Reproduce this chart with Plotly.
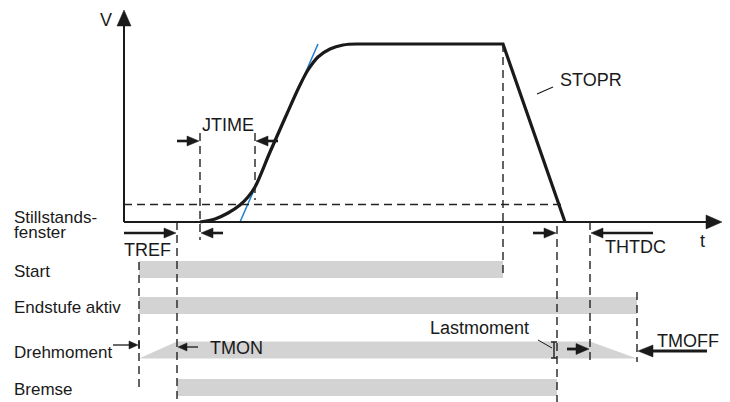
import plotly.graph_objects as go

# ---------------- data (chart units: t to the right, v upward; origin = axes crossing) ----
ramp_t = [76, 91, 104, 116, 124, 131, 146, 161, 176, 184, 194, 206, 219, 233]
ramp_v = [0, 3, 9, 17, 25, 35, 70, 104, 137, 152, 165, 173, 177, 178]
stop_t = [233, 379, 441]
stop_v = [178, 178, 0]
tangent_t = [116, 194]
tangent_v = [0, 178]
standstill_v = 17.5

# event times
t_enable = 15
t_ref = 53
t_j0 = 76
t_j1 = 131
t_stop = 379
t_still = 433
t_htdc = 466
t_off = 513

row_labels = ["Start", "Endstufe aktiv", "Drehmoment", "Bremse"]
row_v = [-47.5, -83.5, -128, -165.5]
start_span = [t_enable, t_stop]
enable_span = [t_enable, t_off]
torque_span = [t_enable, t_ref, t_htdc, t_off]
brake_span = [t_ref, t_still]

# ---------------- styling ----------------
FONT = "Liberation Sans, Arial, sans-serif"
BLACK = "#1a1a1a"
GRAY = "#d3d3d3"
BLUE = "#1f7fd0"
HALF = 8.5

fig = go.Figure()
shapes = []
annos = []


def line(x0, y0, x1, y1, w=2, color=BLACK, dash=None):
    d = dict(type="line", x0=x0, y0=y0, x1=x1, y1=y1, xref="x", yref="y",
             line=dict(color=color, width=w), layer="above")
    if dash:
        d["line"]["dash"] = dash
    shapes.append(d)


def dline(x0, y0, x1, y1):
    line(x0, y0, x1, y1, w=1.4, color="#222222", dash="8px,5px")


def tri(tip_x, tip_y, dx, dy, length, half):
    bx, by = tip_x - dx * length, tip_y - dy * length
    px, py = -dy * half, dx * half
    fig.add_trace(go.Scatter(x=[tip_x, bx + px, bx - px, tip_x],
                             y=[tip_y, by + py, by - py, tip_y],
                             mode="lines", fill="toself", fillcolor=BLACK,
                             line=dict(color=BLACK, width=0.5),
                             hoverinfo="skip", showlegend=False))


def harrow(tail, tip, v, length=12, half=5, w=2.6):
    d = 1 if tip > tail else -1
    line(tail, v, tip - d * (length - 1), v, w=w)
    tri(tip, v, d, 0, length, half)


def text(x, y, s, size=17, anchor="left"):
    annos.append(dict(x=x, y=y, xref="x", yref="y", text=s, showarrow=False,
                      xanchor=anchor, yanchor="middle",
                      font=dict(family=FONT, size=size, color=BLACK)))


# ---------------- gray bars ----------------
def bar(t0, t1, v):
    shapes.append(dict(type="rect", x0=t0, x1=t1, y0=v - HALF, y1=v + HALF,
                       xref="x", yref="y", fillcolor=GRAY, line=dict(width=0),
                       layer="below"))


bar(start_span[0], start_span[1], row_v[0])
bar(enable_span[0], enable_span[1], row_v[1])
bar(brake_span[0], brake_span[1], row_v[3])
vt = row_v[2]
fig.add_trace(go.Scatter(
    x=[torque_span[0], torque_span[1], torque_span[2], torque_span[3], torque_span[0]],
    y=[vt - HALF, vt + HALF, vt + HALF, vt - HALF, vt - HALF],
    mode="lines", fill="toself", fillcolor=GRAY, line=dict(width=0),
    hoverinfo="skip", showlegend=False))

# ---------------- axes ----------------
line(0, 0, 0, 199, w=2)
tri(0, 212, 0, 1, 16, 7)
line(0, 0, 585, 0, w=2)
tri(598, 0, 1, 0, 16, 7)

# standstill window
dline(0, standstill_v, 441, standstill_v)

# ---------------- velocity ----------------
fig.add_trace(go.Scatter(x=tangent_t, y=tangent_v, mode="lines",
                         line=dict(color=BLUE, width=1.5),
                         hoverinfo="skip", showlegend=False))
fig.add_trace(go.Scatter(x=ramp_t, y=ramp_v, mode="lines", line_shape="spline",
                         line=dict(color=BLACK, width=3.2),
                         hoverinfo="skip", showlegend=False))
fig.add_trace(go.Scatter(x=stop_t, y=stop_v, mode="lines",
                         line=dict(color=BLACK, width=3.2),
                         hoverinfo="skip", showlegend=False))

# ---------------- dashed event lines ----------------
dline(t_enable, -40, t_enable, -168)
dline(t_ref, 0, t_ref, -180)
dline(t_j0, 89, t_j0, -18)
dline(t_j1, 89, t_j1, 22)
dline(t_stop, 178, t_stop, -53)
dline(t_still, -4, t_still, -180)
dline(t_htdc, 0, t_htdc, -141)
dline(t_off, -70, t_off, -140)

# ---------------- arrows ----------------
harrow(0, t_ref - 1, -11)                  # TREF
harrow(t_j0 - 23, t_j0 - 1, 81)            # JTIME left
harrow(t_j1 + 23, t_j1 + 1, 81)            # JTIME right
harrow(t_j0 + 23, t_j0 + 1, -11)           # below axis
harrow(t_still - 24, t_still - 1, -11)     # standstill
harrow(t_htdc + 63, t_htdc + 1, -11)       # THTDC
harrow(t_enable - 26, t_enable - 1, -123, length=9, half=4, w=1.3)   # Drehmoment
line(t_enable, -119, t_enable, -127, w=1.4)
harrow(t_ref + 21, t_ref + 1, -125, length=9, half=4, w=1.3)         # TMON
harrow(t_still + 10, t_htdc - 1, -127, length=13, half=5.5, w=2.8)   # Lastmoment arrow
harrow(t_off + 70, t_off + 1, -129, length=15, half=6, w=3)          # TMOFF

# I-beam (Lastmoment) and leaders
line(t_still - 3, -120, t_still - 3, -136, w=1.4)
line(t_still - 6, -120, t_still, -120, w=1.4)
line(t_still - 6, -136, t_still, -136, w=1.4)
line(t_still - 19, -118, t_still - 5, -126, w=1)
line(413, 128, 429, 135, w=1.2)  # STOPR leader

# ---------------- texts ----------------
text(-18, 202, "V", size=18, anchor="center")
text(578, -19, "t", size=18, anchor="center")
text(t_j0 + 28, 97, "JTIME", size=18, anchor="center")
text(434, 142, "STOPR", size=18)
text(-112, 5, "Stillstands-")
text(-112, -10, "fenster")
text(-2, -28, "TREF", size=18)
text(479, -25, "THTDC", size=18)
for lab, v in zip(row_labels, row_v):
    text(-112, v - 2, lab)
text(84, -126, "TMON", size=18)
text(304, -106, "Lastmoment", size=18)
text(531, -119, "TMOFF", size=18)

fig.update_layout(
    width=730, height=402, margin=dict(l=0, r=0, t=0, b=0),
    paper_bgcolor="white", plot_bgcolor="white",
    xaxis=dict(range=[-124, 606], visible=False, fixedrange=True),
    yaxis=dict(range=[-180, 222], visible=False, fixedrange=True),
    shapes=shapes, annotations=annos, showlegend=False,
)
fig.write_html("out.html", config={"displayModeBar": False},
               post_script="document.body.style.margin='0';document.body.style.overflow='hidden';")
